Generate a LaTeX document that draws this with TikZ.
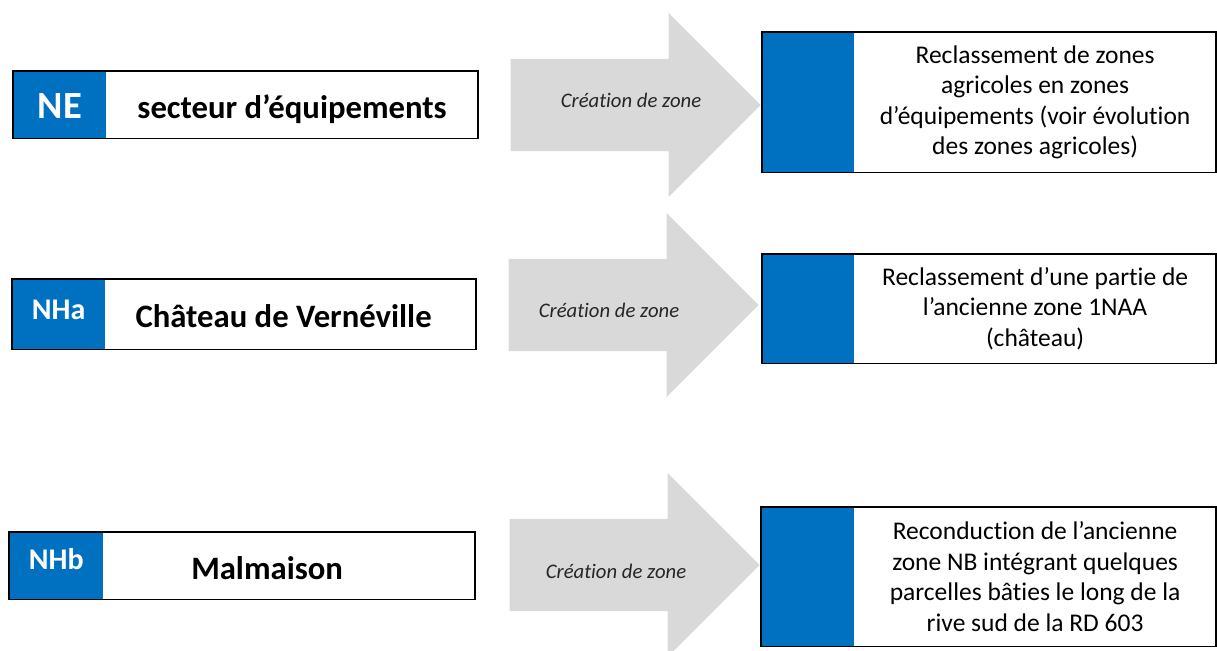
\documentclass[tikz,border=0pt]{standalone}
\usepackage{fontspec}
\setmainfont{Carlito}[Ligatures=NoCommon]
\usepackage{tikz}
\usetikzlibrary{shapes.arrows,positioning}

\definecolor{bleu}{RGB}{0,112,192}
\definecolor{gris}{RGB}{217,217,217}

\begin{document}
\begin{tikzpicture}[x=1pt, y=-1pt, inner sep=0pt, cadre/.style={draw=black, line width=1.8pt}]
	\tikzstyle{code}=[fill=bleu, text=white, font=\bfseries\fontsize{30}{36}\selectfont,
		text height=19pt, anchor=north west]
	\tikzstyle{nom}=[fill=white, font=\bfseries\fontsize{32.7}{38}\selectfont, text height=27pt, text depth=0pt]
	\tikzstyle{desc}=[fill=white, align=center, font=\fontsize{25.5}{30.5}\selectfont]
	\tikzstyle{fleche}=[single arrow, fill=gris, inner xsep=0pt, inner ysep=46pt,
		minimum height=250pt, single arrow head extend=46pt, anchor=tip]
	\tikzstyle{creation}=[text=black!85, font=\itshape\fontsize{20.7}{25}\selectfont]
	\useasboundingbox (0,0) rectangle (1217,650);

	% NE
	\node[code, minimum width=93, minimum height=67, text height=27pt, text depth=0pt,
		font=\bfseries\fontsize{38.5}{46}\selectfont] (ne) at (13,71) {NE};
	\node[nom, minimum width=371, minimum height=67, right=0pt of ne] (nenom) {secteur d’équipements};
	\draw[cadre] (ne.north west) rectangle (nenom.south east);
	\node[fleche] (nefleche) at (761,105) {};
	\node[creation] (necrea) at (631,100) {Création de zone};
	\node[code, minimum width=92, minimum height=140] (nebis) at (762,32) {};
	\node[desc, minimum width=361, minimum height=140, right=0pt of nebis] (nedesc)
		{Reclassement de zones\\agricoles en zones\\d’équipements (voir évolution\\des zones agricoles)};
	\draw[cadre] (nebis.north west) rectangle (nedesc.south east);

	% NHa
	\node[code, minimum width=93, minimum height=70, text depth=9pt] (nha) at (12,279) {NHa};
	\node[nom, minimum width=370, minimum height=70, right=0pt of nha] (nhanom) {Château de Vernéville\kern14pt};
	\draw[cadre] (nha.north west) rectangle (nhanom.south east);
	\node[fleche] (nhafleche) at (759,305) {};
	\node[creation] (nhacrea) at (609,310) {Création de zone};
	\node[code, minimum width=92, minimum height=109] (nhabis) at (762,254) {};
	\node[desc, minimum width=361, minimum height=109, right=0pt of nhabis] (nhadesc)
		{Reclassement d’une partie de\\l’ancienne zone 1NAA\\(château)};
	\draw[cadre] (nhabis.north west) rectangle (nhadesc.south east);

	% NHb
	\node[code, minimum width=94, minimum height=67, text depth=12pt] (nhb) at (9,532) {NHb};
	\node[nom, minimum width=371, minimum height=67, right=0pt of nhb] (nhbnom) {Malmaison\kern44pt};
	\draw[cadre] (nhb.north west) rectangle (nhbnom.south east);
	\node[fleche] (nhbfleche) at (760,565) {};
	\node[creation] (nhbcrea) at (616,571) {Création de zone};
	\node[code, minimum width=93, minimum height=139] (nhbbis) at (761,507) {};
	\node[desc, minimum width=361, minimum height=139, right=0pt of nhbbis] (nhbdesc)
		{Reconduction de l’ancienne\\zone NB intégrant quelques\\parcelles bâties le long de la\\rive sud de la RD 603};
	\draw[cadre] (nhbbis.north west) rectangle (nhbdesc.south east);
\end{tikzpicture}
\end{document}
